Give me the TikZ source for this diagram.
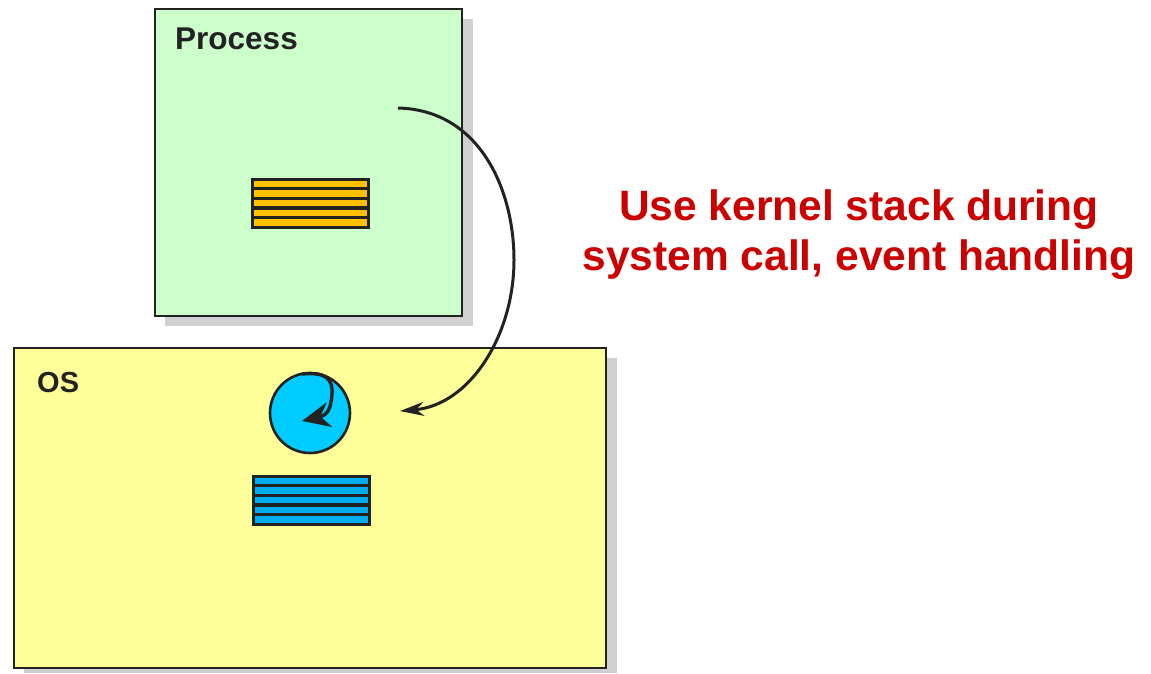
\documentclass[tikz,border=0pt]{standalone}
\usepackage{fontspec}
\setmainfont{Liberation Sans}
\usetikzlibrary{arrows.meta,calc}

\definecolor{procfill}{HTML}{CCFFCC}
\definecolor{osfill}{HTML}{FFFF99}
\definecolor{shade}{HTML}{D0D0D0}
\definecolor{ink}{HTML}{222222}
\definecolor{stackorange}{HTML}{FFC000}
\definecolor{stackblue}{HTML}{00AEEF}
\definecolor{threadblue}{HTML}{00CCFF}
\definecolor{callred}{HTML}{CC0000}

\tikzset{
  panel/.style={draw=ink, line width=2.6pt, inner sep=0pt, outer sep=0pt},
  panelshadow/.style={fill=shade, draw=none},
  panellabel/.style={font=\bfseries\fontsize{31.5}{36}\selectfont, text=ink, anchor=base west, inner sep=0pt},
  stackbox/.style={draw=ink, line width=3pt, minimum width=116pt, minimum height=48pt, inner sep=0pt, outer sep=0pt},
  stripe/.style={draw=ink, line width=3.4pt},
  flow/.style={draw=ink, line width=3pt, -{Stealth[length=24pt, width=14pt]}},
  note/.style={font=\bfseries\fontsize{42.5}{50}\selectfont, text=callred, align=center, inner sep=0pt}
}

\begin{document}
\begin{tikzpicture}[x=1pt, y=-1pt]
  \useasboundingbox (0,0) rectangle (1151,673);

  % drop shadows
  \fill[panelshadow] (165,19) rectangle (473,326);
  \fill[panelshadow] (24,358) rectangle (617,673);

  % process and OS panels
  \node[panel, fill=procfill, minimum width=307pt, minimum height=307pt, anchor=north west] (proc) at (155,9) {};
  \node[panel, fill=osfill, minimum width=592pt, minimum height=320pt, anchor=north west] (os) at (14,348) {};

  \node[panellabel] (proclabel) at (175,49) {Process};
  \node[panellabel, font=\bfseries\fontsize{29}{34}\selectfont] (oslabel) at (37,392) {OS};

  % user stack
  \node[stackbox, fill=stackorange, anchor=north west] (ustack) at (252,179) {};
  \foreach \k in {1,...,4}
    \draw[stripe] ($(ustack.north west)!\k/5!(ustack.south west)$) -- ($(ustack.north east)!\k/5!(ustack.south east)$);

  % kernel stack
  \node[stackbox, fill=stackblue, anchor=north west] (kstack) at (253,476) {};
  \foreach \k in {1,...,4}
    \draw[stripe] ($(kstack.north west)!\k/5!(kstack.south west)$) -- ($(kstack.north east)!\k/5!(kstack.south east)$);

  % kernel thread
  \node[circle, draw=ink, line width=2.6pt, fill=threadblue, minimum size=80pt, inner sep=0pt] (thread) at (310,413) {};
  \coordinate (tstart) at (302,374);
  \coordinate (ttip) at (302,421);
  \draw[ink, line width=3.4pt, -{Stealth[length=28pt, width=25pt]}]
    (tstart) .. controls (325,372) and (333,378) .. (332,394)
             .. controls (331,408) and (328,415) .. (ttip);

  % call into the kernel
  \coordinate (callstart) at (398,108);
  \coordinate (callend) at (400,411);
  \draw[flow] (callstart) .. controls (480,110) and (514,190) .. (514,260)
                          .. controls (514,335) and (470,405) .. (callend);

  \node[note] (caption) at (859,235) {Use kernel stack during\\system call, event handling};
\end{tikzpicture}
\end{document}
